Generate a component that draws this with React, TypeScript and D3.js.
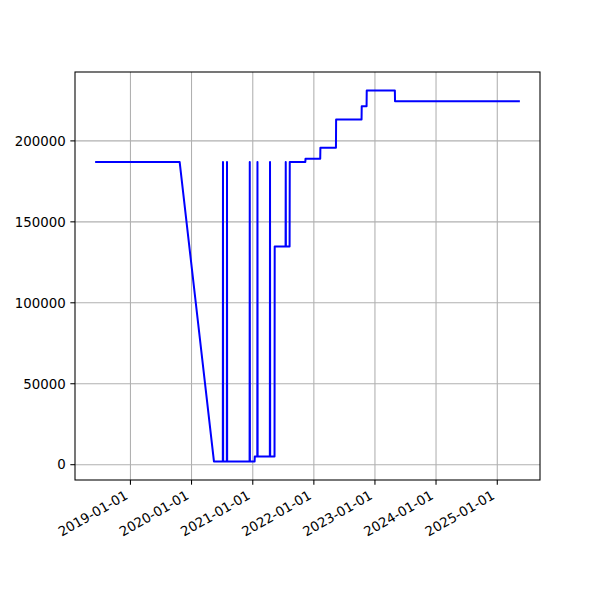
import React from "react";
import * as d3 from "d3";

const dates: string[] = [
  "2018-06-10", "2019-10-22", "2020-05-14",
  "2020-07-06", "2020-07-07", "2020-07-08",
  "2020-07-30", "2020-07-31", "2020-08-01",
  "2020-12-13", "2020-12-14", "2020-12-15",
  "2021-01-12", "2021-01-13",
  "2021-01-28", "2021-01-29", "2021-01-30",
  "2021-04-13", "2021-04-14", "2021-04-15",
  "2021-05-11", "2021-05-12",
  "2021-07-16", "2021-07-17", "2021-07-18",
  "2021-08-09", "2021-08-10",
  "2021-11-11", "2021-11-12",
  "2022-02-08", "2022-02-09",
  "2022-05-13", "2022-05-14",
  "2022-10-13", "2022-10-14",
  "2022-11-12", "2022-11-13",
  "2023-04-30", "2023-05-01",
  "2025-05-10",
];

const values: number[] = [
  187000, 187000, 2000,
  2000, 187000, 2000,
  2000, 187000, 2000,
  2000, 187000, 2000,
  2000, 5000,
  5000, 187000, 5000,
  5000, 187000, 5000,
  5000, 134800,
  134800, 187000, 134800,
  134800, 187000,
  187000, 189000,
  189000, 195800,
  195800, 213200,
  213200, 221400,
  221400, 231100,
  231100, 224500,
  224500,
];

const xTickLabels: string[] = [
  "2019-01-01", "2020-01-01", "2021-01-01", "2022-01-01",
  "2023-01-01", "2024-01-01", "2025-01-01",
];
const yTicks: number[] = [0, 50000, 100000, 150000, 200000];

const W = 600, H = 600;
const L = 75, R = 540, T = 72, B = 480;
const FONT = "DejaVu Sans";
const FS = 13.33;
const TICK = 4.67;
const PAD = 4.67;

export default function App() {
  const parse = d3.utcParse("%Y-%m-%d");
  const pts = dates.map((d, i) => ({ t: parse(d)!, v: values[i] }));
  const [t0, t1] = d3.extent(pts, (p) => p.t.getTime()) as [number, number];
  const dt = (t1 - t0) * 0.05;
  const [v0, v1] = d3.extent(pts, (p) => p.v) as [number, number];
  const dv = (v1 - v0) * 0.05;
  const x = d3.scaleUtc().domain([new Date(t0 - dt), new Date(t1 + dt)]).range([L, R]);
  const y = d3.scaleLinear().domain([v0 - dv, v1 + dv]).range([B, T]);

  const line = d3
    .line<{ t: Date; v: number }>()
    .x((p) => x(p.t))
    .y((p) => y(p.v));

  const xTicks = xTickLabels.map((s) => ({ s, px: x(parse(s)!) }));
  const asc = FS * 0.76;
  const desc = FS * 0.236;

  return (
    <svg
      width={W}
      height={H}
      style={{ position: "absolute", left: 0, top: 0, background: "#fff" }}
      fontFamily={FONT}
      fontSize={FS}
    >
      <rect x={0} y={0} width={W} height={H} fill="#fff" />
      <defs>
        <clipPath id="clip">
          <rect x={L} y={T} width={R - L} height={B - T} />
        </clipPath>
      </defs>
      {/* grid */}
      <g stroke="#b0b0b0" strokeWidth={1.07}>
        {xTicks.map((tk) => (
          <line key={tk.s} x1={tk.px} x2={tk.px} y1={T} y2={B} />
        ))}
        {yTicks.map((v) => (
          <line key={v} x1={L} x2={R} y1={y(v)} y2={y(v)} />
        ))}
      </g>
      <path
        d={line(pts) || ""}
        fill="none"
        stroke="#0000ff"
        strokeWidth={2}
        strokeLinejoin="round"
        strokeLinecap="square"
        clipPath="url(#clip)"
      />
      {/* frame */}
      <rect x={L} y={T} width={R - L} height={B - T} fill="none" stroke="#000" strokeWidth={1.07} />
      {/* x ticks */}
      <g>
        {xTicks.map((tk) => {
          const ox = tk.px - 0.5 * desc;
          const oy = B + TICK + PAD + 0.866 * asc;
          return (
            <g key={tk.s}>
              <line x1={tk.px} x2={tk.px} y1={B} y2={B + TICK} stroke="#000" strokeWidth={1.07} />
              <text
                transform={`translate(${ox},${oy}) rotate(-30)`}
                textAnchor="end"
                fill="#000"
              >
                {tk.s}
              </text>
            </g>
          );
        })}
      </g>
      {/* y ticks */}
      <g>
        {yTicks.map((v) => (
          <g key={v}>
            <line x1={L - TICK} x2={L} y1={y(v)} y2={y(v)} stroke="#000" strokeWidth={1.07} />
            <text
              x={L - TICK - PAD}
              y={y(v)}
              dy="0.36em"
              textAnchor="end"
              fill="#000"
            >
              {v}
            </text>
          </g>
        ))}
      </g>
    </svg>
  );
}
